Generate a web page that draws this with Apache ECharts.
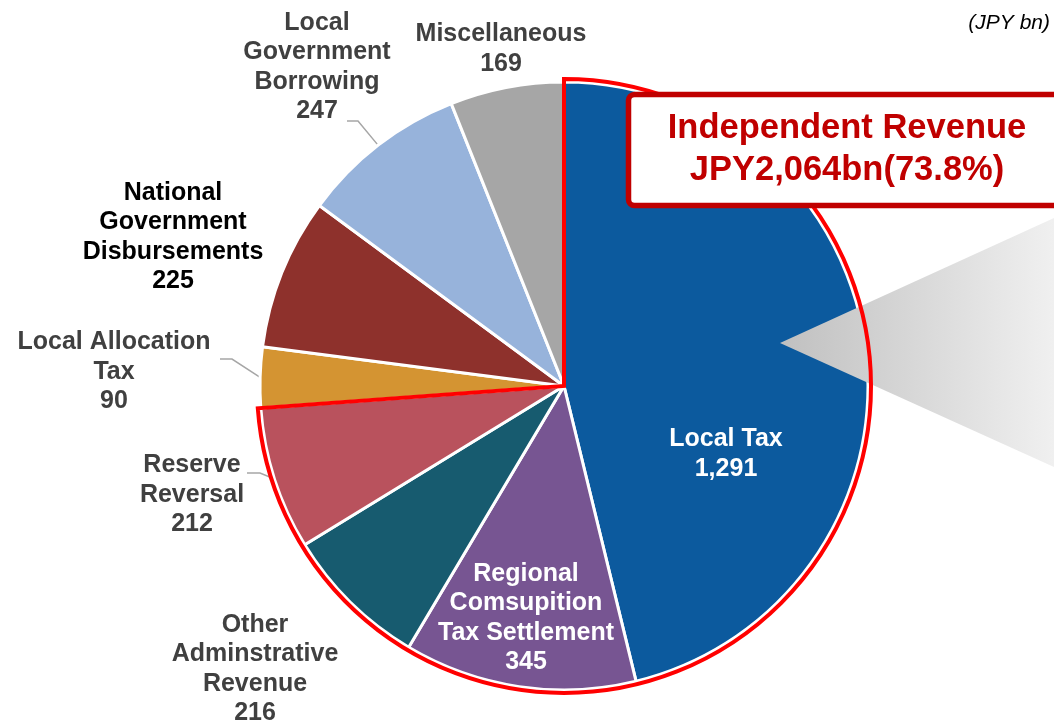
<!DOCTYPE html>
<html>
<head>
<meta charset="utf-8">
<script src="https://cdn.jsdelivr.net/npm/echarts@6/dist/echarts.min.js"></script>
<style>
  html, body { margin: 0; padding: 0; background: #ffffff; }
  #chart { width: 1054px; height: 723px; }
</style>
</head>
<body>
<div id="chart"></div>
<script>
// Revenue breakdown, JPY bn, clockwise from 12 o'clock
const categories = [
  'Local Tax',
  'Regional\nComsupition\nTax Settlement',
  'Other\nAdminstrative\nRevenue',
  'Reserve\nReversal',
  'Local Allocation\nTax',
  'National\nGovernment\nDisbursements',
  'Local\nGovernment\nBorrowing',
  'Miscellaneous'
];
const values = [1291, 345, 216, 212, 90, 225, 247, 169];
// the first four sources make up independent revenue
const independentCount = 4;
const unitText = '(JPY bn)';

// ---- styling / layout ----
const sliceColors = ['#0C5A9E', '#775592', '#175B6F', '#B9525D', '#D49432', '#8E312C', '#97B3DB', '#A6A6A6'];
const labelColors = ['#FFFFFF', '#FFFFFF', '#404040', '#404040', '#404040', '#000000', '#404040', '#404040'];
const insideLabel = [true, true, false, false, false, false, false, false];
const labelAnchors = [[726, 454], [526, 618], [255, 669], [192, 495], [114, 372], [173, 237], [317, 67], [501, 49]];
// leader lines: [end near text, elbow]
const leaderGuides = { 3: [[247, 473], [260, 473]], 4: [[220, 359], [232, 359]], 6: [[347, 121], [358, 121]] };

const CX = 564, CY = 386, R = 304;
const fontFamily = '"Liberation Sans", Arial, Helvetica, sans-serif';

const total = values.reduce((a, b) => a + b, 0);
const independentTotal = values.slice(0, independentCount).reduce((a, b) => a + b, 0);
const independentPct = (independentTotal / total * 100).toFixed(1);
const fmt = v => v.toLocaleString('en-US');

function edgePoint(i) {
  const before = values.slice(0, i).reduce((a, b) => a + b, 0);
  const mid = (before + values[i] / 2) / total * Math.PI * 2;
  return [CX + R * Math.sin(mid), CY - R * Math.cos(mid)];
}

const chart = echarts.init(document.getElementById('chart'), null, { renderer: 'canvas' });

chart.setOption({
  backgroundColor: '#ffffff',
  animation: false,
  series: [
    {
      type: 'pie',
      z: 1,
      center: [CX, CY],
      radius: R,
      startAngle: 90,
      clockwise: true,
      avoidLabelOverlap: false,
      emphasis: { disabled: true },
      itemStyle: { borderColor: '#ffffff', borderWidth: 3 },
      label: {
        show: true,
        position: 'outside',
        fontFamily: fontFamily,
        fontWeight: 'bold',
        fontSize: 25,
        lineHeight: 29.5,
        align: 'center',
        formatter: p => p.name + '\n' + fmt(p.value)
      },
      labelLine: { show: false, lineStyle: { color: '#A6A6A6', width: 1.5 }, length: 10, length2: 10 },
      labelLayout: function (params) {
        const i = params.dataIndex;
        const pos = labelAnchors[i];
        const out = { x: pos[0], y: pos[1], align: 'center', verticalAlign: 'middle' };
        const guide = leaderGuides[i];
        if (guide) {
          const start = (params.labelLinePoints && params.labelLinePoints[0]) || edgePoint(i);
          out.labelLinePoints = [start, guide[1], guide[0]];
        }
        return out;
      },
      data: categories.map((name, i) => ({
        name: name,
        value: values[i],
        itemStyle: { color: sliceColors[i] },
        label: { color: labelColors[i], position: insideLabel[i] ? 'inside' : 'outside' },
        labelLine: { show: !!leaderGuides[i] }
      }))
    },
    {
      // red outline around the independent revenue slices
      type: 'pie',
      z: 3,
      silent: true,
      center: [CX, CY],
      radius: R + 3,
      startAngle: 90,
      clockwise: true,
      label: { show: false },
      labelLine: { show: false },
      emphasis: { disabled: true },
      data: [
        { name: 'Independent', value: independentTotal,
          itemStyle: { color: 'rgba(0,0,0,0)', borderColor: '#FF0000', borderWidth: 4, borderJoin: 'miter' } },
        { name: 'Dependent', value: total - independentTotal,
          itemStyle: { color: 'rgba(0,0,0,0)', borderWidth: 0 } }
      ]
    }
  ],
  graphic: [
    {
      type: 'polygon',
      z: 2,
      silent: true,
      shape: { points: [[780, 343], [1054, 218], [1054, 467]] },
      style: {
        fill: new echarts.graphic.LinearGradient(0, 0, 1, 0, [
          { offset: 0, color: '#C0C0C0' },
          { offset: 1, color: '#F0F0F0' }
        ])
      }
    },
    {
      type: 'rect',
      z: 4,
      silent: true,
      shape: { x: 628.5, y: 94.5, width: 470, height: 111, r: 6 },
      style: { fill: '#ffffff', stroke: '#C00000', lineWidth: 5.5 }
    },
    {
      type: 'text',
      z: 5,
      silent: true,
      x: 847,
      y: 149,
      style: {
        text: 'Independent Revenue\nJPY' + fmt(independentTotal) + 'bn(' + independentPct + '%)',
        fill: '#C00000',
        font: 'bold 34.5px ' + fontFamily,
        lineHeight: 42,
        align: 'center',
        verticalAlign: 'middle'
      }
    },
    {
      type: 'text',
      z: 5,
      silent: true,
      x: 1050,
      y: 23,
      style: {
        text: unitText,
        fill: '#000000',
        font: 'italic 21px ' + fontFamily,
        align: 'right',
        verticalAlign: 'middle'
      }
    }
  ]
});
</script>
</body>
</html>
